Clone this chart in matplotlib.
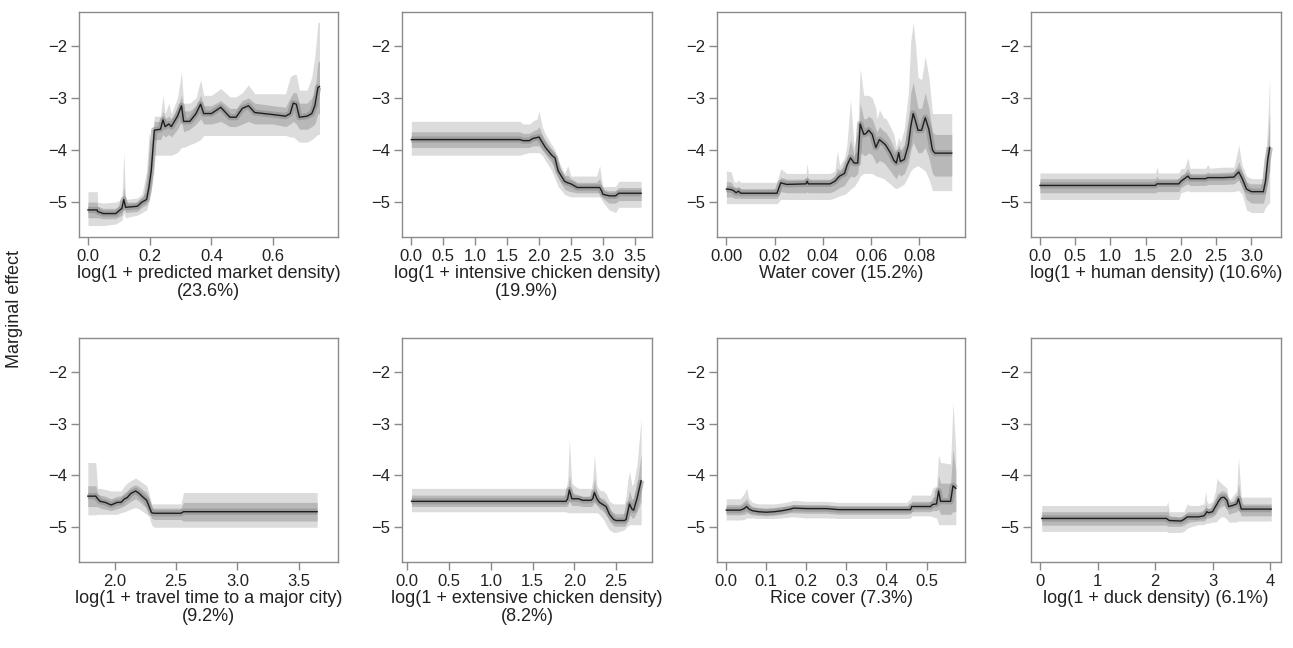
import matplotlib
matplotlib.use("Agg")
import matplotlib.pyplot as plt

plt.rcParams["font.family"] = ["Liberation Sans", "DejaVu Sans"]

# ---- panel 1: predicted market density
p1_x = [0.00, 0.03, 0.031, 0.05, 0.09, 0.11, 0.116, 0.122, 0.16, 0.175, 0.19, 0.198, 0.205, 0.215, 0.235,
        0.243, 0.25, 0.262, 0.27, 0.29, 0.303, 0.31, 0.33, 0.35, 0.365, 0.375, 0.40, 0.43, 0.46, 0.48,
        0.50, 0.52, 0.54, 0.60, 0.64, 0.655, 0.665, 0.675, 0.685, 0.71, 0.725, 0.735, 0.745, 0.75]
p1_med = [-5.15, -5.15, -5.18, -5.22, -5.22, -5.12, -4.95, -5.10, -5.08, -5.00, -4.95, -4.70, -4.40, -3.62, -3.60,
          -3.42, -3.55, -3.50, -3.55, -3.35, -3.15, -3.45, -3.45, -3.30, -3.12, -3.30, -3.30, -3.18, -3.37, -3.37,
          -3.20, -3.15, -3.28, -3.32, -3.35, -3.30, -3.10, -3.12, -3.37, -3.35, -3.30, -3.15, -2.80, -2.78]
p1_lo = [-5.45, -5.45, -5.45, -5.45, -5.42, -5.35, -5.20, -5.30, -5.25, -5.20, -5.15, -5.00, -4.80, -4.10, -4.10,
         -4.10, -4.10, -4.10, -4.10, -4.05, -3.95, -3.95, -3.90, -3.85, -3.80, -3.72, -3.72, -3.72, -3.72, -3.72,
         -3.72, -3.72, -3.72, -3.72, -3.72, -3.75, -3.75, -3.80, -3.85, -3.85, -3.80, -3.75, -3.70, -3.70]
p1_hi = [-4.80, -4.80, -5.00, -5.02, -5.00, -4.95, -4.05, -4.95, -4.92, -4.85, -4.40, -3.65, -3.90, -3.35, -3.35,
         -2.95, -3.30, -3.10, -3.30, -3.00, -2.50, -3.10, -3.10, -3.00, -2.65, -2.95, -2.95, -2.82, -2.98, -2.98,
         -2.90, -2.75, -2.92, -2.92, -2.92, -2.60, -2.55, -2.55, -2.85, -2.85, -2.60, -2.20, -1.55, -1.55]
p1_lo2 = [-5.30, -5.30, -5.30, -5.32, -5.32, -5.25, -5.10, -5.20, -5.18, -5.10, -5.05, -4.85, -4.60, -3.80, -3.80,
          -3.70, -3.75, -3.70, -3.75, -3.60, -3.45, -3.65, -3.60, -3.50, -3.40, -3.50, -3.50, -3.45, -3.55, -3.55,
          -3.50, -3.45, -3.50, -3.50, -3.55, -3.50, -3.45, -3.50, -3.60, -3.60, -3.55, -3.50, -3.30, -3.30]
p1_hi2 = [-5.00, -5.00, -5.08, -5.12, -5.12, -5.02, -4.70, -5.00, -5.00, -4.90, -4.80, -4.30, -4.10, -3.45, -3.45,
          -3.25, -3.40, -3.35, -3.40, -3.20, -2.95, -3.25, -3.25, -3.15, -2.95, -3.15, -3.15, -3.05, -3.20, -3.20,
          -3.05, -3.00, -3.10, -3.15, -3.18, -3.00, -2.90, -2.90, -3.10, -3.10, -3.00, -2.90, -2.30, -2.30]

# ---- panel 2: intensive chicken density
p2_x = [0.0, 1.70, 1.75, 1.85, 1.90, 1.97, 2.00, 2.05, 2.10, 2.20, 2.25, 2.30, 2.40, 2.45, 2.50, 2.60,
        2.90, 2.95, 2.98, 3.00, 3.10, 3.20, 3.25, 3.60]
p2_med = [-3.80, -3.80, -3.82, -3.82, -3.78, -3.76, -3.75, -3.85, -3.95, -4.10, -4.15, -4.40, -4.60, -4.63, -4.65, -4.72,
          -4.72, -4.72, -4.78, -4.85, -4.88, -4.88, -4.83, -4.83]
p2_lo = [-4.10, -4.10, -4.08, -4.05, -4.05, -4.05, -4.05, -4.10, -4.20, -4.40, -4.55, -4.70, -4.85, -4.88, -4.90, -4.90,
         -4.90, -4.90, -4.95, -5.00, -5.15, -5.20, -5.10, -5.10]
p2_hi = [-3.45, -3.45, -3.50, -3.50, -3.45, -3.40, -3.25, -3.55, -3.70, -3.90, -4.00, -4.20, -4.45, -4.30, -4.50, -4.50,
         -4.50, -4.30, -4.55, -4.70, -4.70, -4.70, -4.60, -4.60]
p2_lo2 = [-3.95, -3.95, -3.95, -3.95, -3.92, -3.92, -3.92, -4.00, -4.08, -4.25, -4.35, -4.55, -4.75, -4.78, -4.80, -4.82,
          -4.82, -4.82, -4.86, -4.93, -5.02, -5.02, -4.97, -4.97]
p2_hi2 = [-3.65, -3.65, -3.68, -3.68, -3.64, -3.60, -3.55, -3.70, -3.82, -3.98, -4.05, -4.28, -4.50, -4.48, -4.55, -4.62,
          -4.62, -4.55, -4.68, -4.76, -4.78, -4.78, -4.72, -4.72]

# ---- panel 3: water cover
p3_x = [0.000, 0.002, 0.003, 0.004, 0.005, 0.006, 0.021, 0.0225, 0.025, 0.033, 0.0335, 0.034, 0.043, 0.045, 0.046,
        0.047, 0.049, 0.050, 0.0515, 0.053, 0.0545, 0.0555, 0.057, 0.058, 0.059, 0.0605, 0.062, 0.0625, 0.0635,
        0.0655, 0.066, 0.068, 0.0695, 0.0705, 0.0715, 0.0722, 0.0738, 0.0755, 0.0765, 0.0775, 0.0785, 0.0795,
        0.081, 0.0825, 0.084, 0.0855, 0.0865, 0.0935]
p3_med = [-4.75, -4.76, -4.78, -4.82, -4.79, -4.83, -4.83, -4.63, -4.66, -4.65, -4.60, -4.65, -4.65, -4.60, -4.55,
          -4.50, -4.45, -4.30, -4.15, -4.25, -4.25, -3.50, -3.70, -3.68, -3.62, -3.70, -3.95, -3.90, -3.80,
          -3.88, -3.90, -4.05, -4.20, -4.25, -4.05, -4.22, -4.18, -3.90, -3.55, -3.30, -3.45, -3.62,
          -3.62, -3.38, -3.60, -4.00, -4.06, -4.06]
p3_lo = [-5.03, -5.03, -5.03, -5.03, -5.03, -5.03, -5.03, -4.95, -4.95, -4.95, -4.95, -4.95, -4.95, -4.92, -4.90,
         -4.88, -4.85, -4.82, -4.75, -4.70, -4.60, -4.50, -4.45, -4.45, -4.45, -4.45, -4.50, -4.50, -4.52,
         -4.55, -4.58, -4.65, -4.72, -4.74, -4.72, -4.70, -4.65, -4.50, -4.40, -4.35, -4.32, -4.30,
         -4.35, -4.40, -4.55, -4.78, -4.78, -4.78]
p3_hi = [-4.40, -4.42, -4.60, -4.62, -4.58, -4.62, -4.62, -4.36, -4.45, -4.45, -4.25, -4.45, -4.45, -4.40, -4.02,
         -4.30, -4.15, -3.90, -3.04, -3.95, -3.60, -2.44, -2.95, -2.95, -2.95, -3.00, -3.20, -3.40, -3.23,
         -3.40, -3.38, -3.55, -3.70, -3.95, -3.75, -3.85, -3.60, -2.90, -1.90, -1.55, -2.00, -2.60,
         -2.65, -2.20, -2.60, -3.30, -3.30, -3.30]
p3_lo2 = [-4.90, -4.90, -4.92, -4.93, -4.92, -4.93, -4.93, -4.80, -4.82, -4.82, -4.80, -4.82, -4.82, -4.78, -4.75,
          -4.72, -4.68, -4.60, -4.50, -4.52, -4.45, -4.05, -4.10, -4.10, -4.05, -4.10, -4.25, -4.25, -4.20,
          -4.25, -4.28, -4.40, -4.50, -4.55, -4.45, -4.50, -4.45, -4.25, -4.00, -3.85, -3.95, -4.05,
          -4.05, -3.95, -4.15, -4.45, -4.50, -4.50]
p3_hi2 = [-4.60, -4.62, -4.70, -4.72, -4.70, -4.74, -4.74, -4.52, -4.56, -4.56, -4.48, -4.56, -4.56, -4.50, -4.35,
          -4.38, -4.32, -4.15, -3.80, -4.10, -4.00, -3.10, -3.40, -3.40, -3.35, -3.40, -3.60, -3.65, -3.55,
          -3.65, -3.65, -3.80, -3.95, -4.05, -3.90, -4.00, -3.90, -3.50, -2.90, -2.70, -2.95, -3.20,
          -3.20, -2.90, -3.20, -3.65, -3.70, -3.70]

# ---- panel 4: human density
p4_x = [0.0, 1.64, 1.66, 1.68, 1.97, 2.00, 2.05, 2.10, 2.13, 2.35, 2.38, 2.41, 2.60, 2.75, 2.80, 2.82, 2.87,
        2.93, 3.00, 3.17, 3.20, 3.23, 3.26]
p4_med = [-4.68, -4.68, -4.65, -4.65, -4.65, -4.60, -4.55, -4.50, -4.55, -4.55, -4.53, -4.53, -4.53, -4.52, -4.45,
          -4.42, -4.55, -4.75, -4.80, -4.80, -4.60, -4.20, -3.95]
p4_lo = [-4.95, -4.95, -4.95, -4.95, -4.95, -4.82, -4.80, -4.78, -4.80, -4.80, -4.80, -4.80, -4.80, -4.80, -4.78,
         -4.78, -4.85, -5.15, -5.20, -5.20, -5.10, -5.05, -5.00]
p4_hi = [-4.44, -4.44, -4.32, -4.44, -4.44, -4.36, -4.35, -4.15, -4.35, -4.35, -4.28, -4.35, -4.33, -4.33, -4.05,
         -3.90, -4.30, -4.50, -4.55, -4.55, -4.30, -3.50, -2.60]
p4_lo2 = [-4.82, -4.82, -4.80, -4.80, -4.80, -4.72, -4.68, -4.65, -4.68, -4.68, -4.66, -4.66, -4.66, -4.65, -4.60,
          -4.58, -4.70, -4.95, -5.02, -5.02, -4.85, -4.55, -4.40]
p4_hi2 = [-4.55, -4.55, -4.50, -4.55, -4.55, -4.48, -4.45, -4.35, -4.45, -4.45, -4.42, -4.44, -4.43, -4.42, -4.30,
          -4.22, -4.42, -4.62, -4.65, -4.65, -4.45, -3.90, -3.30]

# ---- panel 5: travel time to a major city
p5_x = [1.78, 1.845, 1.86, 1.88, 1.92, 1.97, 2.02, 2.05, 2.08, 2.10, 2.13, 2.17, 2.20, 2.23, 2.26, 2.28, 2.30,
        2.32, 2.54, 2.56, 3.65]
p5_med = [-4.40, -4.40, -4.45, -4.50, -4.52, -4.57, -4.52, -4.52, -4.45, -4.43, -4.35, -4.30, -4.35, -4.42, -4.48,
          -4.60, -4.72, -4.73, -4.73, -4.70, -4.70]
p5_lo = [-4.76, -4.76, -4.75, -4.75, -4.75, -4.75, -4.75, -4.72, -4.70, -4.68, -4.65, -4.62, -4.65, -4.70, -4.75,
         -4.80, -4.95, -5.00, -5.00, -5.00, -5.00]
p5_hi = [-3.75, -3.75, -4.25, -4.25, -4.27, -4.30, -4.30, -4.30, -4.20, -4.15, -4.10, -4.05, -4.10, -4.15, -4.20,
         -4.35, -4.55, -4.55, -4.55, -4.33, -4.33]
p5_lo2 = [-4.60, -4.60, -4.60, -4.63, -4.65, -4.68, -4.64, -4.62, -4.58, -4.55, -4.50, -4.45, -4.50, -4.57, -4.62,
          -4.70, -4.83, -4.85, -4.85, -4.88, -4.88]
p5_hi2 = [-4.20, -4.20, -4.35, -4.38, -4.40, -4.45, -4.40, -4.40, -4.33, -4.30, -4.22, -4.18, -4.22, -4.28, -4.33,
          -4.45, -4.62, -4.63, -4.63, -4.52, -4.52]

# ---- panel 6: extensive chicken density
p6_x = [0.05, 1.90, 1.92, 1.94, 1.97, 2.00, 2.05, 2.10, 2.20, 2.22, 2.24, 2.27, 2.30, 2.35, 2.38, 2.42, 2.47,
        2.50, 2.60, 2.62, 2.64, 2.66, 2.69, 2.71, 2.75, 2.80]
p6_med = [-4.50, -4.50, -4.45, -4.28, -4.45, -4.45, -4.45, -4.48, -4.48, -4.45, -4.33, -4.45, -4.52, -4.57, -4.60,
          -4.75, -4.85, -4.87, -4.87, -4.85, -4.70, -4.55, -4.65, -4.67, -4.45, -4.10]
p6_lo = [-4.70, -4.70, -4.72, -4.72, -4.72, -4.72, -4.72, -4.72, -4.72, -4.72, -4.72, -4.72, -4.75, -4.85, -4.95,
         -5.05, -5.10, -5.10, -5.05, -5.00, -4.98, -4.95, -4.95, -4.95, -4.95, -4.95]
p6_hi = [-4.25, -4.25, -4.10, -3.30, -4.15, -4.20, -4.25, -4.25, -4.25, -4.10, -3.60, -4.20, -4.28, -4.30, -4.35,
         -4.50, -4.55, -4.55, -4.55, -4.40, -4.10, -3.92, -4.20, -4.15, -3.80, -2.90]
p6_lo2 = [-4.60, -4.60, -4.58, -4.50, -4.58, -4.58, -4.58, -4.60, -4.60, -4.58, -4.52, -4.58, -4.64, -4.70, -4.75,
          -4.88, -4.97, -4.98, -4.98, -4.95, -4.85, -4.75, -4.82, -4.82, -4.70, -4.50]
p6_hi2 = [-4.38, -4.38, -4.32, -4.00, -4.32, -4.35, -4.38, -4.40, -4.40, -4.30, -4.05, -4.35, -4.42, -4.45, -4.50,
          -4.65, -4.72, -4.74, -4.74, -4.68, -4.45, -4.30, -4.45, -4.45, -4.20, -3.60]

# ---- panel 7: rice cover
p7_x = [0.0, 0.035, 0.045, 0.051, 0.057, 0.065, 0.08, 0.10, 0.12, 0.14, 0.16, 0.168, 0.20, 0.25, 0.28, 0.45,
        0.46, 0.463, 0.51, 0.515, 0.525, 0.53, 0.535, 0.56, 0.566, 0.573]
p7_med = [-4.67, -4.67, -4.64, -4.60, -4.65, -4.68, -4.70, -4.71, -4.70, -4.68, -4.65, -4.63, -4.64, -4.64, -4.66,
          -4.66, -4.66, -4.60, -4.60, -4.56, -4.55, -4.30, -4.50, -4.50, -4.20, -4.25]
p7_lo = [-4.86, -4.86, -4.85, -4.82, -4.82, -4.82, -4.83, -4.83, -4.83, -4.82, -4.80, -4.80, -4.82, -4.82, -4.83,
         -4.83, -4.82, -4.78, -4.78, -4.80, -4.82, -4.95, -4.95, -4.95, -4.95, -4.95]
p7_hi = [-4.45, -4.45, -4.35, -4.25, -4.45, -4.52, -4.55, -4.55, -4.55, -4.53, -4.50, -4.48, -4.50, -4.50, -4.52,
         -4.52, -4.45, -4.38, -4.38, -4.25, -4.20, -3.60, -3.75, -3.78, -2.60, -3.50]
p7_lo2 = [-4.76, -4.76, -4.75, -4.72, -4.74, -4.76, -4.77, -4.78, -4.77, -4.75, -4.72, -4.72, -4.73, -4.73, -4.75,
          -4.75, -4.74, -4.70, -4.70, -4.68, -4.68, -4.65, -4.75, -4.75, -4.70, -4.70]
p7_hi2 = [-4.56, -4.56, -4.50, -4.45, -4.55, -4.60, -4.62, -4.63, -4.62, -4.60, -4.58, -4.56, -4.57, -4.57, -4.59,
          -4.59, -4.56, -4.50, -4.50, -4.42, -4.40, -4.00, -4.15, -4.15, -3.50, -3.90]

# ---- panel 8: duck density
p8_x = [0.03, 2.20, 2.22, 2.25, 2.45, 2.50, 2.56, 2.60, 2.75, 2.85, 2.88, 2.90, 2.93, 3.00, 3.05, 3.08, 3.10,
        3.15, 3.20, 3.25, 3.28, 3.35, 3.42, 3.45, 3.50, 4.02]
p8_med = [-4.83, -4.83, -4.85, -4.87, -4.88, -4.85, -4.80, -4.80, -4.80, -4.78, -4.74, -4.70, -4.72, -4.70, -4.60,
          -4.55, -4.50, -4.43, -4.42, -4.48, -4.60, -4.58, -4.55, -4.45, -4.65, -4.65]
p8_lo = [-5.08, -5.08, -5.10, -5.10, -5.10, -5.08, -5.02, -5.00, -4.95, -4.95, -4.93, -4.92, -4.92, -4.90, -4.90,
         -4.88, -4.85, -4.80, -4.80, -4.85, -4.90, -4.90, -4.90, -4.88, -4.88, -4.88]
p8_hi = [-4.58, -4.58, -4.50, -4.70, -4.70, -4.70, -4.55, -4.58, -4.58, -4.55, -4.30, -4.50, -4.55, -4.50, -4.30,
         -4.05, -4.10, -4.15, -4.20, -4.25, -4.50, -4.40, -4.30, -3.65, -4.42, -4.42]
p8_lo2 = [-4.96, -4.96, -4.98, -4.98, -4.98, -4.96, -4.92, -4.90, -4.88, -4.88, -4.85, -4.82, -4.82, -4.80, -4.75,
          -4.70, -4.65, -4.60, -4.58, -4.65, -4.75, -4.72, -4.70, -4.65, -4.78, -4.78]
p8_hi2 = [-4.70, -4.70, -4.68, -4.78, -4.80, -4.78, -4.70, -4.70, -4.70, -4.68, -4.55, -4.62, -4.64, -4.62, -4.48,
          -4.35, -4.35, -4.30, -4.30, -4.35, -4.52, -4.50, -4.45, -4.15, -4.55, -4.55]

labels = [
    "log(1 + predicted market density)\n(23.6%)",
    "log(1 + intensive chicken density)\n(19.9%)",
    "Water cover (15.2%)",
    "log(1 + human density) (10.6%)",
    "log(1 + travel time to a major city)\n(9.2%)",
    "log(1 + extensive chicken density)\n(8.2%)",
    "Rice cover (7.3%)",
    "log(1 + duck density) (6.1%)",
]
xticks = [
    [0.0, 0.2, 0.4, 0.6],
    [0.0, 0.5, 1.0, 1.5, 2.0, 2.5, 3.0, 3.5],
    [0.00, 0.02, 0.04, 0.06, 0.08],
    [0.0, 0.5, 1.0, 1.5, 2.0, 2.5, 3.0],
    [2.0, 2.5, 3.0, 3.5],
    [0.0, 0.5, 1.0, 1.5, 2.0, 2.5],
    [0.0, 0.1, 0.2, 0.3, 0.4, 0.5],
    [0, 1, 2, 3, 4],
]
xfmt = ["%.1f", "%.1f", "%.2f", "%.1f", "%.1f", "%.1f", "%.1f", "%d"]
xlims = [(-0.029, 0.81), (-0.146, 3.77), (-0.0039, 0.099), (-0.127, 3.42),
         (1.708, 3.82), (-0.064, 2.93), (-0.023, 0.596), (-0.157, 4.19)]
yticks = [-2, -3, -4, -5]

series = [
    (p1_x, p1_med, p1_lo, p1_hi, p1_lo2, p1_hi2),
    (p2_x, p2_med, p2_lo, p2_hi, p2_lo2, p2_hi2),
    (p3_x, p3_med, p3_lo, p3_hi, p3_lo2, p3_hi2),
    (p4_x, p4_med, p4_lo, p4_hi, p4_lo2, p4_hi2),
    (p5_x, p5_med, p5_lo, p5_hi, p5_lo2, p5_hi2),
    (p6_x, p6_med, p6_lo, p6_hi, p6_lo2, p6_hi2),
    (p7_x, p7_med, p7_lo, p7_hi, p7_lo2, p7_hi2),
    (p8_x, p8_med, p8_lo, p8_hi, p8_lo2, p8_hi2),
]

W, H = 1293, 648
fig = plt.figure(figsize=(W / 100, H / 100), dpi=100)

# axes boxes in pixels: (left, right) per column, (top, bottom) per row
cols = [(79, 338), (402, 652), (717, 965), (1031, 1281)]
rows = [(12, 237), (338, 562)]

for i, (x, med, lo, hi, lo2, hi2) in enumerate(series):
    (l, r), (t, b) = cols[i % 4], rows[i // 4]
    ax = fig.add_axes([l / W, 1 - b / H, (r - l) / W, (b - t) / H])
    ax.fill_between(x, lo, hi, color="#dcdcdc", lw=0)
    ax.fill_between(x, lo2, hi2, color="#b8b8b8", lw=0)
    # darker core around the mean curve
    ax.plot(x, med, color="#8a8a8a", lw=4.5, alpha=0.55, solid_capstyle="butt")
    ax.plot(x, med, color="#1e1e1e", lw=1.0)
    ax.set_xlim(*xlims[i])
    ax.set_ylim(-5.67, -1.35)
    ax.set_yticks(yticks)
    ax.set_xticks(xticks[i])
    ax.set_xticklabels([xfmt[i] % v for v in xticks[i]])
    for s in ax.spines.values():
        s.set_color("#8a8a8a")
        s.set_linewidth(1.0)
    ax.tick_params(direction="out", length=5.5, width=1.0, color="#8a8a8a",
                   labelsize=12, labelcolor="#222222", pad=3)
    ax.set_xlabel(labels[i], fontsize=13, color="#222222", labelpad=1, linespacing=1.1)

fig.text(15 / W, 1 - 309 / H, "Marginal effect", rotation=90, ha="center", va="center",
         fontsize=13, color="#222222")

fig.savefig("out.png", dpi=100)
